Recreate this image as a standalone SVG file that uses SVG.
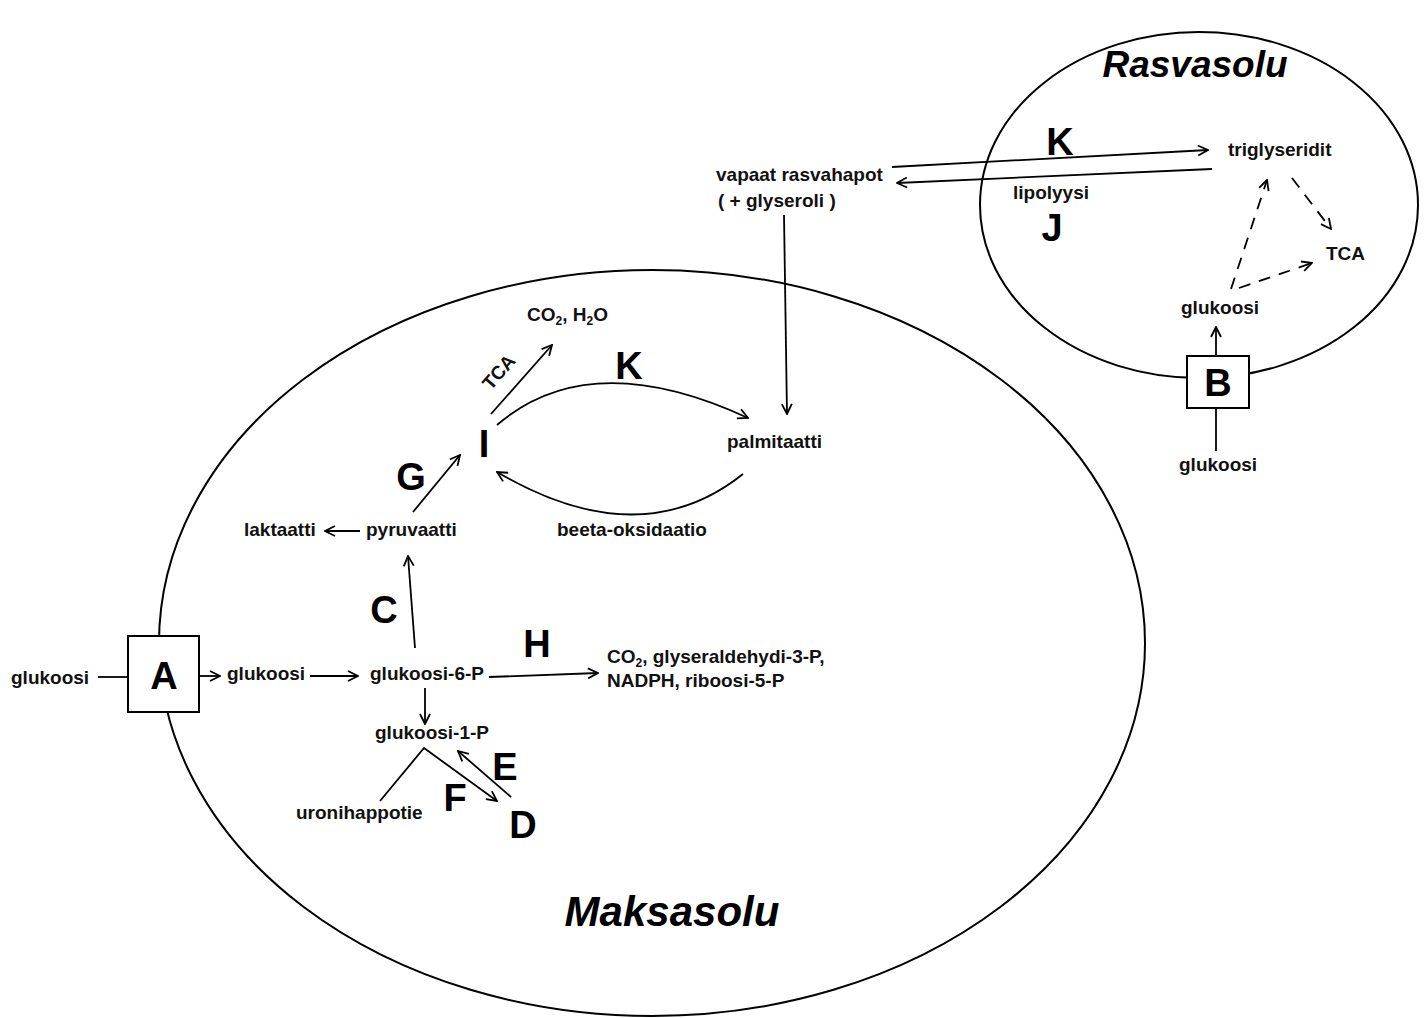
<svg xmlns="http://www.w3.org/2000/svg" width="1425" height="1018" viewBox="0 0 1425 1018">
<defs>
<style>
.t{font-family:"Liberation Sans",Arial,sans-serif;font-weight:bold;font-size:19px;fill:#111;}
.big{font-family:"Liberation Sans",Arial,sans-serif;font-weight:bold;font-size:38px;fill:#000;text-anchor:middle;}
.title{font-family:"Liberation Sans",Arial,sans-serif;font-weight:bold;font-style:italic;fill:#000;}
.cell{fill:none;stroke:#000;stroke-width:2;}
.c{fill:none;stroke:#000;stroke-width:1.8;}
.d{fill:none;stroke:#000;stroke-width:1.8;stroke-dasharray:12 9;}
.box{fill:#fff;stroke:#000;stroke-width:2;}
</style>
<marker id="ah" viewBox="0 0 12 12" refX="11" refY="6" markerWidth="12" markerHeight="12" markerUnits="userSpaceOnUse" orient="auto">
<path d="M1,1 L11,6 L1,11" fill="none" stroke="#000" stroke-width="1.8"/>
</marker>
</defs>
<rect width="1425" height="1018" fill="#fff"/>

<g id="maksasolu-cell">
<ellipse class="cell" cx="652" cy="643" rx="493" ry="373"/>
<text class="title" x="672" y="926" font-size="42" text-anchor="middle">Maksasolu</text>
</g>
<g id="rasvasolu-cell">
<ellipse class="cell" cx="1199" cy="205" rx="219" ry="173"/>
<text class="title" x="1195" y="77" font-size="37" text-anchor="middle">Rasvasolu</text>
</g>

<g id="connectors">
<line class="c" x1="892" y1="167" x2="1208" y2="150" marker-end="url(#ah)"/>
<line class="c" x1="1212" y1="169" x2="897" y2="183" marker-end="url(#ah)"/>
<line class="d" x1="1231" y1="289" x2="1267" y2="180" marker-end="url(#ah)"/>
<line class="d" x1="1292" y1="178" x2="1331" y2="229" marker-end="url(#ah)"/>
<line class="d" x1="1239" y1="288" x2="1312" y2="263" marker-end="url(#ah)"/>
<line class="c" x1="1216" y1="356" x2="1216" y2="327" marker-end="url(#ah)"/>
<line class="c" x1="1216" y1="451" x2="1216" y2="408"/>
<line class="c" x1="784" y1="215" x2="787" y2="414" marker-end="url(#ah)"/>
<line class="c" x1="491" y1="414" x2="552" y2="345" marker-end="url(#ah)"/>
<path class="c" d="M497,425 Q590,345 748,418" marker-end="url(#ah)"/>
<path class="c" d="M743,474 Q640,556 497,472" marker-end="url(#ah)"/>
<line class="c" x1="413" y1="512" x2="460" y2="455" marker-end="url(#ah)"/>
<line class="c" x1="360" y1="531" x2="325" y2="531" marker-end="url(#ah)"/>
<line class="c" x1="415" y1="648" x2="408" y2="556" marker-end="url(#ah)"/>
<line class="c" x1="98" y1="677" x2="128" y2="677"/>
<line class="c" x1="199" y1="676" x2="220" y2="676" marker-end="url(#ah)"/>
<line class="c" x1="310" y1="676" x2="358" y2="676" marker-end="url(#ah)"/>
<line class="c" x1="489" y1="677" x2="598" y2="673" marker-end="url(#ah)"/>
<line class="c" x1="425" y1="688" x2="425" y2="724" marker-end="url(#ah)"/>
<polyline class="c" points="380,801 424,748 497,801" marker-end="url(#ah)"/>
<line class="c" x1="511" y1="797" x2="458" y2="751" marker-end="url(#ah)"/>
</g>

<g id="node-A">
<rect class="box" x="128" y="636" width="71" height="76"/>
<text class="big" x="164" y="689">A</text>
</g>
<g id="node-B">
<rect class="box" x="1187" y="356" width="62" height="52"/>
<text class="big" x="1218" y="396">B</text>
</g>

<g id="node-K-adipo"><text class="big" x="1060" y="155">K</text></g>
<g id="node-triglyseridit"><text class="t" x="1228" y="156">triglyseridit</text></g>
<g id="node-vapaat"><text class="t" x="716" y="181">vapaat rasvahapot</text><text class="t" x="718" y="207">( + glyseroli )</text></g>
<g id="node-lipolyysi"><text class="t" x="1013" y="199">lipolyysi</text></g>
<g id="node-J"><text class="big" x="1052" y="241">J</text></g>
<g id="node-TCA-adipo"><text class="t" x="1326" y="260">TCA</text></g>
<g id="node-glukoosi-adipo"><text class="t" x="1181" y="314">glukoosi</text></g>
<g id="node-glukoosi-blood"><text class="t" x="1179" y="471">glukoosi</text></g>

<g id="node-co2h2o"><text class="t" x="527" y="321">CO<tspan font-size="12" dy="4">2</tspan><tspan dy="-4">, H</tspan><tspan font-size="12" dy="4">2</tspan><tspan dy="-4">O</tspan></text></g>
<g id="label-TCA"><text class="t" font-size="15" text-anchor="middle" x="500" y="378" transform="rotate(-49 500 373)">TCA</text></g>
<g id="node-K-liver"><text class="big" x="629" y="379">K</text></g>
<g id="node-I"><text class="big" x="484" y="457">I</text></g>
<g id="node-G"><text class="big" x="411" y="490">G</text></g>
<g id="node-palmitaatti"><text class="t" x="727" y="448">palmitaatti</text></g>
<g id="node-laktaatti"><text class="t" x="244" y="536">laktaatti</text></g>
<g id="node-pyruvaatti"><text class="t" x="366" y="536">pyruvaatti</text></g>
<g id="node-beeta"><text class="t" x="557" y="536">beeta-oksidaatio</text></g>
<g id="node-C"><text class="big" x="384" y="623">C</text></g>
<g id="node-H"><text class="big" x="537" y="657">H</text></g>
<g id="node-glukoosi-out"><text class="t" x="11" y="684">glukoosi</text></g>
<g id="node-glukoosi-in"><text class="t" x="227" y="680">glukoosi</text></g>
<g id="node-g6p"><text class="t" x="370" y="680">glukoosi-6-P</text></g>
<g id="node-ppp"><text class="t" x="607" y="663">CO<tspan font-size="12" dy="4">2</tspan><tspan dy="-4">, glyseraldehydi-3-P,</tspan></text><text class="t" x="607" y="687">NADPH, riboosi-5-P</text></g>
<g id="node-g1p"><text class="t" x="375" y="739">glukoosi-1-P</text></g>
<g id="node-E"><text class="big" x="505" y="780">E</text></g>
<g id="node-F"><text class="big" x="455" y="811">F</text></g>
<g id="node-uroni"><text class="t" x="296" y="819">uronihappotie</text></g>
<g id="node-D"><text class="big" x="523" y="838">D</text></g>
</svg>
